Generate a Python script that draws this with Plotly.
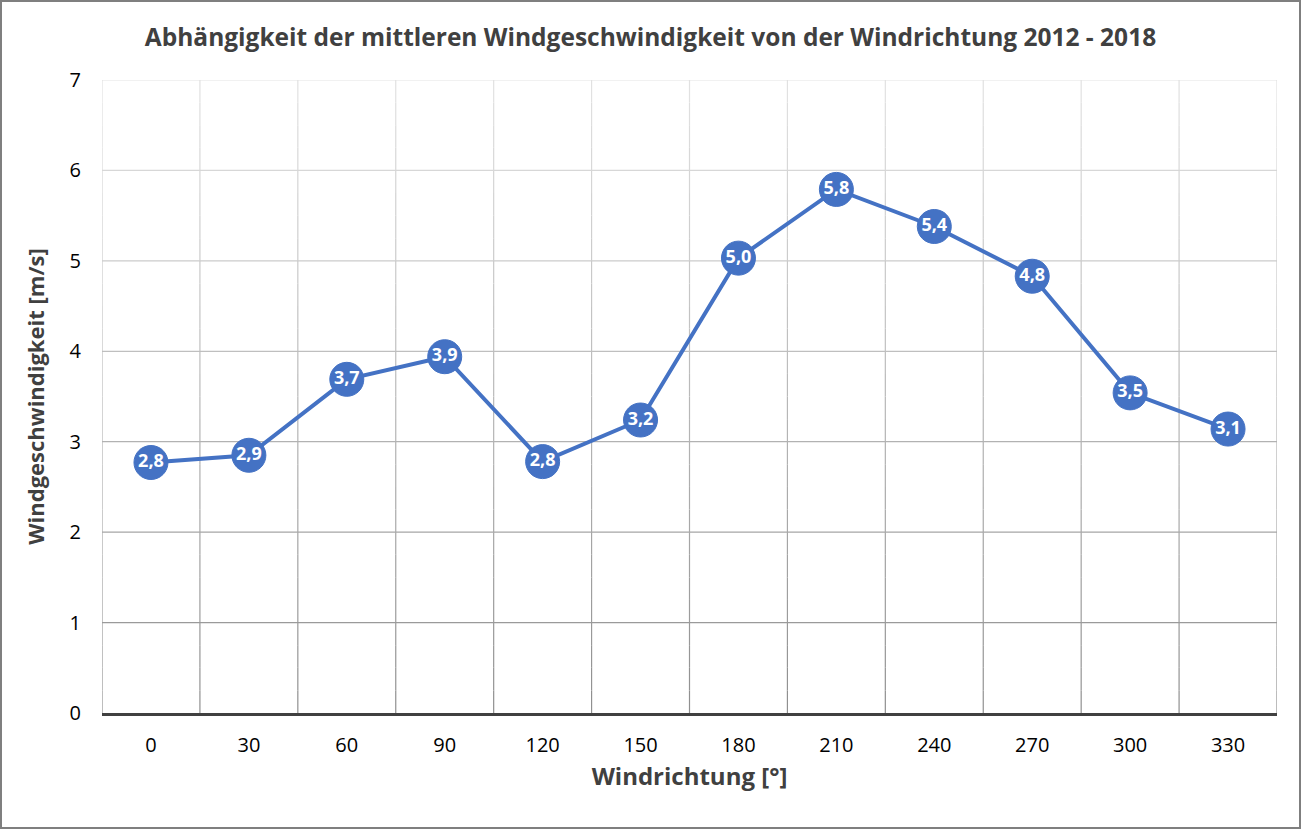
import plotly.graph_objects as go

# ---- data ----
directions = ["0", "30", "60", "90", "120", "150", "180", "210", "240", "270", "300", "330"]
wind_speed = [2.77, 2.85, 3.69, 3.94, 2.78, 3.24, 5.03, 5.79, 5.38, 4.83, 3.54, 3.14]
y_ticks = [0, 1, 2, 3, 4, 5, 6, 7]

title_text = "Abhängigkeit der mittleren Windgeschwindigkeit von der Windrichtung 2012 - 2018"
x_title = "Windrichtung [°]"
y_title = "Windgeschwindigkeit [m/s]"

# ---- style ----
W, H = 1301, 829
ML, MR, MT, MB = 102, 24, 80, 116
BLUE = "#4472C4"
FONT = "Open Sans, Noto Sans, sans-serif"
grid_top = (0xE3, 0xE3, 0xE3)
grid_bottom = (0x8E, 0x8E, 0x8E)


def grid_color(y):
    t = y / max(y_ticks)
    c = [round(b + (a - b) * t) for a, b in zip(grid_top, grid_bottom)]
    return "rgb(%d,%d,%d)" % tuple(c)


labels = [("%.1f" % v).replace(".", ",") for v in wind_speed]

fig = go.Figure()
fig.add_trace(go.Scatter(
    x=directions, y=wind_speed,
    mode="lines+markers+text",
    line=dict(color=BLUE, width=4),
    marker=dict(size=34, color=BLUE, line=dict(color=BLUE, width=1)),
    text=labels, textposition="middle center",
    textfont=dict(color="white", size=18, family=FONT, weight="bold"),
    cliponaxis=False,
    hoverinfo="skip",
))

shapes = []
# horizontal gridlines (gradient colour)
for yv in y_ticks[1:]:
    shapes.append(dict(type="line", xref="paper", yref="y", x0=0, x1=1, y0=yv, y1=yv,
                       line=dict(color=grid_color(yv), width=1.2), layer="below"))
# vertical gridlines at category boundaries, split into bands for the gradient
n_steps = 28
ymax = max(y_ticks)
for i in range(len(directions) + 1):
    xb = i - 0.5
    for s in range(n_steps):
        y0 = ymax * s / n_steps
        y1 = ymax * (s + 1) / n_steps
        shapes.append(dict(type="line", xref="x", yref="y", x0=xb, x1=xb, y0=y0, y1=y1,
                           line=dict(color=grid_color((y0 + y1) / 2), width=1.2), layer="below"))
# outer chart border
pw = W - ML - MR
ph = H - MT - MB
shapes.append(dict(type="rect", xref="paper", yref="paper",
                   x0=-(ML - 1) / pw, x1=1 + (MR - 1) / pw,
                   y0=-(MB - 1) / ph, y1=1 + (MT - 1) / ph,
                   line=dict(color="#7F7F7F", width=2), fillcolor="rgba(0,0,0,0)"))

fig.update_layout(
    width=W, height=H,
    margin=dict(l=ML, r=MR, t=MT, b=MB, pad=0),
    paper_bgcolor="white", plot_bgcolor="white",
    showlegend=False,
    title=dict(text=title_text, x=0.5, xref="container", xanchor="center", y=1 - 37 / H, yanchor="middle",
               font=dict(family=FONT, size=24.5, color="#404040", weight="bold")),
    shapes=shapes,
    font=dict(family=FONT),
)
fig.update_xaxes(
    type="category", range=[-0.5, len(directions) - 0.5],
    showgrid=False, zeroline=False,
    showline=True, linecolor="#404040", linewidth=3,
    ticks="", ticklabelstandoff=12,
    tickfont=dict(size=20, color="#000000", family=FONT),
    title=dict(text=x_title, standoff=12,
               font=dict(size=24, color="#404040", family=FONT, weight="bold")),
)
fig.update_yaxes(
    range=[0, 7], tickvals=y_ticks,
    showgrid=False, zeroline=False, showline=False,
    ticks="", ticklabelstandoff=20,
    tickfont=dict(size=20, color="#000000", family=FONT),
    title=dict(text=y_title, standoff=18,
               font=dict(size=22, color="#404040", family=FONT, weight="bold")),
)

fig.write_html("out.html")
